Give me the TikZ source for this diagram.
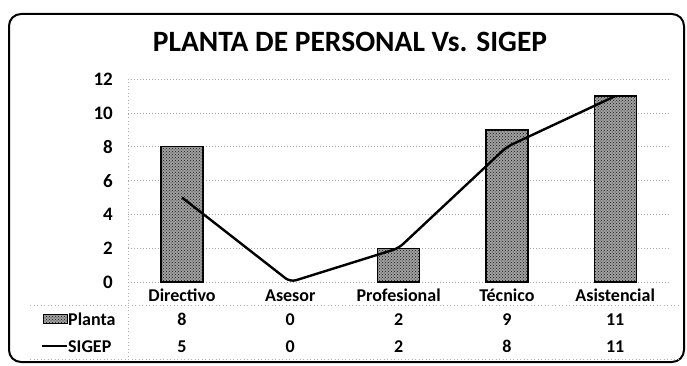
\documentclass[tikz,border=0pt]{standalone}
\usepackage{fontspec}
\setmainfont{Carlito}
\usetikzlibrary{patterns}
\begin{document}
\begin{tikzpicture}[x=1pt,y=-1pt,
  gridline/.style={gray!70, line width=0.7pt, dash pattern=on 1.2pt off 1.8pt},
  tabline/.style={gray!60, line width=0.6pt, dash pattern=on 1pt off 2.5pt},
  bar/.style={draw=black, line width=1.4pt, fill=gray!75, postaction={pattern=crosshatch dots, pattern color=black!90}},
  axlab/.style={font=\bfseries\fontsize{19}{20}\selectfont, anchor=east, inner sep=0pt},
  catlab/.style={font=\bfseries\fontsize{18}{19}\selectfont, inner sep=0pt, anchor=base},
  serie/.style={line width=2.4pt, black, line join=round, rounded corners=6pt}]
\useasboundingbox (0,0) rectangle (687,366);
% frame
\draw[line width=2pt, rounded corners=12pt] (9,14) rectangle (684,362);
% title
\node[font=\bfseries\fontsize{29.5}{30}\selectfont, inner sep=0pt] (title) at (350,42) {PLANTA DE PERSONAL Vs. SIGEP};
% grid and axis labels
\foreach \v in {0,2,...,12} {
  \draw[gridline] (128,{282-16.9*\v}) -- (670,{282-16.9*\v});
  \node[axlab] (y\v) at (113,{282-16.9*\v}) {\v};
}
% axis / table lines
\draw[tabline] (128,79) -- (128,359);
\draw[tabline] (30,305) -- (680,305);
\draw[tabline] (30,359) -- (680,359);
% bars
\foreach \i/\v in {0/8,2/2,3/9,4/11} {
  \draw[bar] ({182+108.3*\i-21},282) rectangle ({182+108.3*\i+21},{282-16.9*\v});
}
% SIGEP line
\foreach \i/\v in {0/5,1/0,2/2,3/8,4/11} {
  \coordinate (s\i) at ({182+108.3*\i},{282-16.9*\v});
}
\draw[serie] (s0) -- (s1) -- (s2) -- (s3) -- (s4);
% category labels and table
\foreach \i/\c/\p/\s in {0/Directivo/8/5,1/Asesor/0/0,2/Profesional/2/2,3/Técnico/9/8,4/Asistencial/11/11} {
  \node[catlab] (c\i) at ({182+108.3*\i},301) {\c};
  \node[catlab] (p\i) at ({182+108.3*\i},325) {\p};
  \node[catlab] (q\i) at ({182+108.3*\i},352) {\s};
}
% legend
\draw[bar, line width=0.8pt] (43,314) rectangle (67,323);
\node[catlab, anchor=base west] (lp) at (68,325) {Planta};
\coordinate (k1) at (42,346);
\coordinate (k2) at (67,346);
\draw[line width=1.8pt] (k1) -- (k2);
\node[catlab, anchor=base west] (ls) at (68,352) {SIGEP};
\end{tikzpicture}
\end{document}
